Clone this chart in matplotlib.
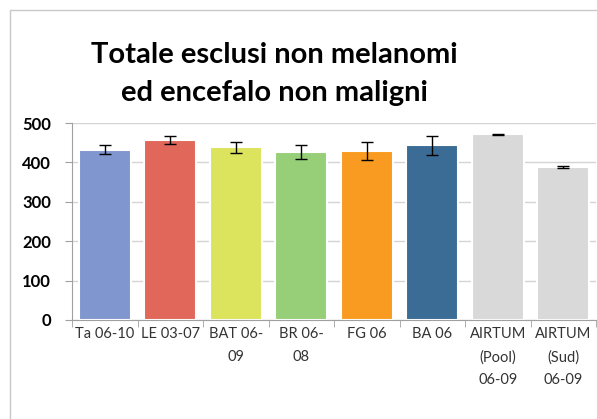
import matplotlib.pyplot as plt
from matplotlib.patches import Rectangle

# Dati
etichette = ["Ta 06-10", "LE 03-07", "BAT 06-\n09", "BR 06-\n08", "FG 06", "BA 06",
             "AIRTUM\n(Pool)\n06-09", "AIRTUM\n(Sud)\n06-09"]
valori = [432, 456, 438, 426, 428, 443, 471, 389]
errori = [11, 10, 14, 17, 23, 25, 2, 3]
colori = ["#8096CE", "#E0675A", "#DCE35C", "#96CF78", "#F89B20", "#3B6C96",
          "#D9D9D9", "#D9D9D9"]
yticks = [0, 100, 200, 300, 400, 500]

plt.rcParams['font.family'] = ['Lato', 'DejaVu Sans']

fig = plt.figure(figsize=(5.97, 4.19), dpi=100)
ax = fig.add_axes([72 / 597, 1 - 320 / 419, 524 / 597, 197 / 419])

# cornice del grafico
fig.add_artist(Rectangle((10 / 597, -0.1), 1.0, 1 - 10 / 419 + 0.1,
                         transform=fig.transFigure, fill=False,
                         edgecolor="#C8C8C8", linewidth=1))

x = range(len(valori))
ax.set_axisbelow(True)
ax.grid(axis='y', color="#D4D4D4", linewidth=1)
ax.bar(x, valori, width=0.8, color=colori, edgecolor="white", linewidth=1.5,
       yerr=errori, capsize=4, error_kw=dict(ecolor="black", elinewidth=1, capthick=1))

ax.set_xlim(-0.5, len(valori) - 0.5)
ax.set_ylim(0, 500)
ax.set_yticks(yticks)
ax.set_yticklabels([str(v) for v in yticks], fontweight='bold', fontsize=12)
ax.set_xticks(list(x))
ax.set_xticklabels(etichette, fontsize=10.5, color="#333333", linespacing=1.8)
ax.set_xticks([i - 0.5 for i in range(len(valori) + 1)], minor=True)
ax.tick_params(axis='x', which='major', length=0, pad=5)
ax.tick_params(axis='x', which='minor', length=5, color="#A0A0A0")
ax.tick_params(axis='y', length=5, color="#A0A0A0", pad=10)

for s in ['top', 'right']:
    ax.spines[s].set_visible(False)
for s in ['left', 'bottom']:
    ax.spines[s].set_color("#A0A0A0")

fig.text(274 / 597, 1 - 74 / 419, "Totale esclusi non melanomi\ned encefalo non maligni",
         ha='center', va='center', fontsize=21, fontweight='bold', linespacing=1.6)

fig.savefig("out.png", dpi=100)
